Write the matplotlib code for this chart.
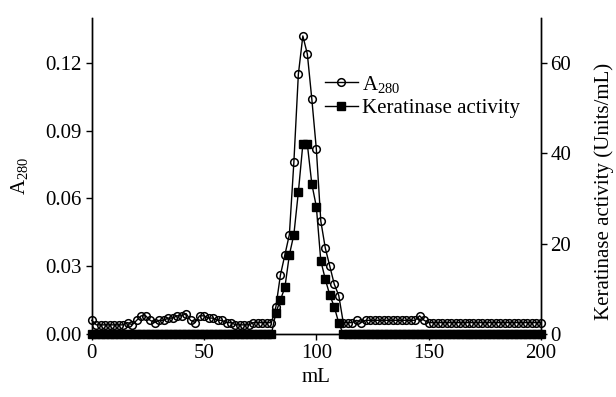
import numpy as np
import matplotlib
matplotlib.use("Agg")
import matplotlib.pyplot as plt

plt.rcParams["font.family"] = ["Liberation Serif", "DejaVu Serif"]
plt.rcParams["mathtext.default"] = "regular"
plt.rcParams["font.size"] = 15

# elution volume (mL), one fraction every 2 mL
volume = np.arange(0, 201, 2)

# absorbance at 280 nm per fraction
a280 = np.array([
    0.006, 0.004, 0.004, 0.004, 0.004, 0.004, 0.004, 0.004, 0.005, 0.004,   # 0-18
    0.006, 0.008, 0.008, 0.006, 0.005, 0.006, 0.006, 0.007, 0.007, 0.008,   # 20-38
    0.008, 0.009, 0.006, 0.005, 0.008, 0.008, 0.007, 0.007, 0.006, 0.006,   # 40-58
    0.005, 0.005, 0.004, 0.004, 0.004, 0.004, 0.005, 0.005, 0.005, 0.005,   # 60-78
    0.005, 0.012, 0.026, 0.035, 0.044, 0.076, 0.115, 0.132, 0.124, 0.104,   # 80-98
    0.082, 0.050, 0.038, 0.030, 0.022, 0.017, 0.005, 0.005, 0.005, 0.006,   # 100-118
    0.005, 0.006, 0.006, 0.006, 0.006, 0.006, 0.006, 0.006, 0.006, 0.006,   # 120-138
    0.006, 0.006, 0.006, 0.008, 0.006, 0.005, 0.005, 0.005, 0.005, 0.005,   # 140-158
    0.005, 0.005, 0.005, 0.005, 0.005, 0.005, 0.005, 0.005, 0.005, 0.005,   # 160-178
    0.005, 0.005, 0.005, 0.005, 0.005, 0.005, 0.005, 0.005, 0.005, 0.005,   # 180-198
    0.005,                                                                  # 200
])

# keratinase activity (Units/mL) per fraction
activity = np.zeros(volume.size)
peak_vol = [82, 84, 86, 88, 90, 92, 94, 96, 98, 100, 102, 104, 106, 108, 110]
peak_act = [4.7, 7.5, 10.3, 17.5, 22.0, 31.4, 42.0, 42.0, 33.2, 28.2, 16.2, 12.1, 8.6, 6.0, 2.4]
for v, a in zip(peak_vol, peak_act):
    activity[volume == v] = a

fig = plt.figure(figsize=(6.16, 3.97), dpi=100)
ax = fig.add_axes([0.149, 0.159, 0.729, 0.796])
ax2 = ax.twinx()

l1, = ax.plot(volume, a280, "-o", color="black", lw=1.0, ms=5.5,
              mfc="none", mew=1.1, clip_on=False, zorder=3)
l2, = ax2.plot(volume, activity, "-s", color="black", lw=1.0, ms=5.5,
               clip_on=False, zorder=2)

ax.set_xlim(0, 200)
ax.set_ylim(0, 0.14)
ax2.set_ylim(0, 70)
ax.set_xticks([0, 50, 100, 150, 200])
ax.set_yticks([0, 0.03, 0.06, 0.09, 0.12])
ax.set_yticklabels(["0.00", "0.03", "0.06", "0.09", "0.12"])
ax2.set_yticks([0, 20, 40, 60])

for a in (ax, ax2):
    a.spines["top"].set_visible(False)
    a.tick_params(direction="out", length=4, width=1, pad=3)
    for s in a.spines.values():
        s.set_linewidth(1.0)

ax.set_xlabel("mL")
ax.set_ylabel("A$_{280}$", labelpad=11)
ax2.set_ylabel("Keratinase activity (Units/mL)")
ax2.yaxis.set_label_coords(1.12, 0.45)

ax.legend([l1, l2], ["A$_{280}$", "Keratinase activity"], loc="upper left",
          bbox_to_anchor=(0.5, 0.85), frameon=False, handlelength=1.6,
          handletextpad=0.2, borderaxespad=0, labelspacing=0.2)

fig.savefig("out.png", dpi=100)
